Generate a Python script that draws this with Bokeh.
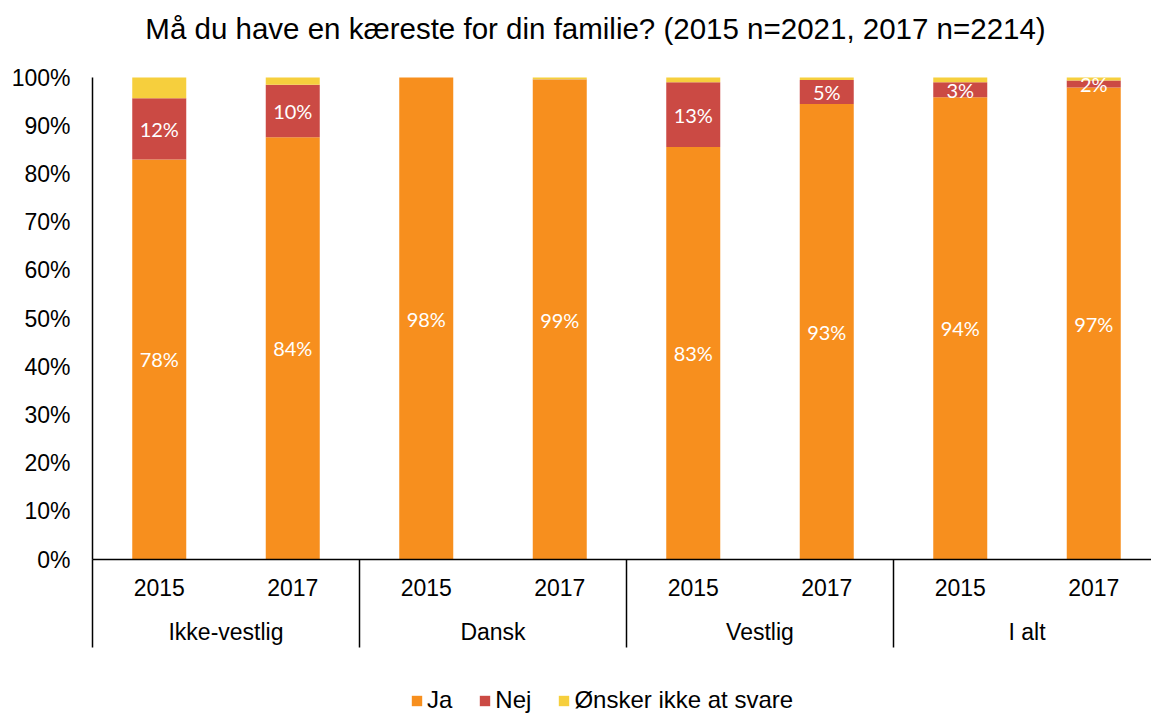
from bokeh.plotting import figure
from bokeh.models import ColumnDataSource, Range1d, FixedTicker, Legend, LegendItem
from bokeh.embed import file_html
from bokeh.resources import INLINE
from bokeh.core.properties import value

# ---------------- data ----------------
title_text = "Må du have en kæreste for din familie? (2015 n=2021, 2017 n=2214)"
groups = ["Ikke-vestlig", "Dansk", "Vestlig", "I alt"]
years = ["2015", "2017"]
series_names = ["Ja", "Nej", "Ønsker ikke at svare"]
# share of each bar (percent-stacked)
ja = [83.0, 87.6, 100.0, 99.5, 85.6, 94.5, 95.9, 97.9]
nej = [12.7, 10.9, 0.0, 0.1, 13.4, 5.0, 3.1, 1.5]
onsker = [4.3, 1.5, 0.0, 0.4, 1.0, 0.5, 1.0, 0.6]
# printed data labels
ja_labels = ["78%", "84%", "98%", "99%", "83%", "93%", "94%", "97%"]
nej_labels = ["12%", "10%", "", "", "13%", "5%", "3%", "2%"]
y_ticks = [0, 10, 20, 30, 40, 50, 60, 70, 80, 90, 100]
y_tick_labels = ["0%", "10%", "20%", "30%", "40%", "50%", "60%", "70%", "80%", "90%", "100%"]

# ---------------- styles ----------------
colors = ["#F78F1E", "#CB4A44", "#F6CF3D"]
FONT = "Liberation Sans"
LABEL_FONT = "Lato"

ng = len(groups)
ny = len(years)
xs = [g + 0.25 + 0.5 * k for g in range(ng) for k in range(ny)]
year_text = [years[k] for g in range(ng) for k in range(ny)]

src = ColumnDataSource(dict(x=xs, ja=ja, nej=nej, onsker=onsker))

W, H = 1151, 713
LEFT = 80            # frame left (canvas px)
AX_X = 92            # pixel of x = 0
AX_Y0 = 559          # pixel of 0 %
AX_Y100 = 77         # pixel of 100 %
PX_X = 267.0         # pixels per group
PX_Y = (AX_Y0 - AX_Y100) / 100.0

def ypix(py):
    return (AX_Y0 - py) / PX_Y

def xpix(px):
    return (px - AX_X) / PX_X

x_start = xpix(LEFT)
x_end = xpix(W)
y_start = ypix(H)
y_end = ypix(0)

p = figure(width=W, height=H, output_backend="svg", toolbar_location=None,
           x_range=Range1d(x_start, x_end), y_range=Range1d(y_start, y_end),
           x_axis_type=None, min_border_left=LEFT, min_border_right=0,
           min_border_top=0, min_border_bottom=0)
p.outline_line_color = None
p.grid.visible = False
p.background_fill_color = "white"
p.border_fill_color = "white"

# y axis (tick labels only; the line is drawn below)
yax = p.yaxis[0]
yax.ticker = FixedTicker(ticks=y_ticks)
yax.major_label_overrides = {t: l for t, l in zip(y_ticks, y_tick_labels)}
yax.axis_line_color = None
yax.major_tick_line_color = None
yax.minor_tick_line_color = None
yax.major_tick_in = 0
yax.major_tick_out = 0
yax.major_label_standoff = 10
yax.major_label_text_font = FONT
yax.major_label_text_font_size = "23px"
yax.major_label_text_color = "#000000"

# title
p.text(x=[xpix(595)], y=[ypix(28)], text=[title_text],
       text_font=value(FONT), text_font_size="29.5px", text_color="#000000",
       text_align="center", text_baseline="middle")

# bars
rs = p.vbar_stack(["ja", "nej", "onsker"], x="x", width=54.0 / PX_X,
                  color=colors, line_color=None, source=src)

# axis lines and group separators
sep_bottom = ypix(647)
p.segment(x0=[0], y0=[0], x1=[0], y1=[100], line_color="#000000", line_width=1.5)
p.segment(x0=[0], y0=[0], x1=[x_end], y1=[0], line_color="#000000", line_width=1.5)
p.segment(x0=list(range(ng)), y0=[0] * ng, x1=list(range(ng)), y1=[sep_bottom] * ng,
          line_color="#000000", line_width=1.5)

# category labels
p.text(x=xs, y=[ypix(587)] * len(xs), text=year_text,
       text_font=value(FONT), text_font_size="23px", text_color="#000000",
       text_align="center", text_baseline="middle")
p.text(x=[g + 0.5 for g in range(ng)], y=[ypix(631)] * ng, text=groups,
       text_font=value(FONT), text_font_size="23px", text_color="#000000",
       text_align="center", text_baseline="middle")

# data labels
lx, ly, lt = [], [], []
for i in range(len(xs)):
    if ja_labels[i]:
        lx.append(xs[i]); ly.append(ja[i] / 2.0); lt.append(ja_labels[i])
    if nej_labels[i]:
        lx.append(xs[i]); ly.append(ja[i] + nej[i] / 2.0); lt.append(nej_labels[i])
p.text(x=lx, y=ly, text=lt, text_font=value(LABEL_FONT), text_font_size="20px",
       text_color="white", text_align="center", text_baseline="middle")

# legend
legend = Legend(items=[LegendItem(label=n, renderers=[r]) for n, r in zip(series_names, rs)],
                orientation="horizontal", location=(410 - LEFT, -1),
                glyph_width=13, glyph_height=13, label_height=13, label_standoff=4,
                spacing=26, padding=0, margin=0,
                label_text_font=FONT, label_text_font_size="24px",
                label_text_color="#000000", label_text_baseline="middle",
                border_line_color=None, background_fill_alpha=0)
p.add_layout(legend)

open("out.html", "w").write(file_html(p, INLINE))
